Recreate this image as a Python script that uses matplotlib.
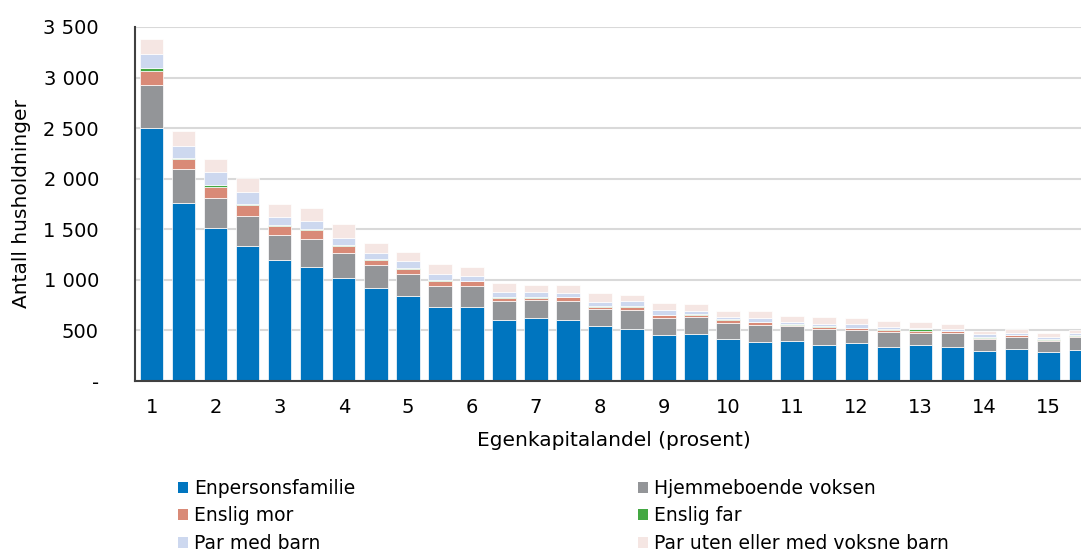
import matplotlib
matplotlib.use("Agg")
import matplotlib.pyplot as plt
from matplotlib.ticker import FuncFormatter, MultipleLocator
from matplotlib.patches import Patch
import numpy as np

plt.rcParams['font.family'] = ['DejaVu Sans']

# Egenkapitalandel (prosent), categories in steps of 0.5
categories = [1, 1.5, 2, 2.5, 3, 3.5, 4, 4.5, 5, 5.5, 6, 6.5, 7, 7.5, 8, 8.5,
              9, 9.5, 10, 10.5, 11, 11.5, 12, 12.5, 13, 13.5, 14, 14.5, 15, 15.5]

enpersonsfamilie = [2504, 1763, 1516, 1338, 1193, 1130, 1015, 920, 844, 733,
                    735, 607, 620, 607, 541, 518, 458, 461, 418, 389,
                    399, 359, 372, 333, 353, 333, 293, 313, 290, 303]
hjemmeboende = [425, 330, 296, 296, 254, 271, 248, 224, 217, 210,
                208, 184, 178, 181, 168, 187, 162, 175, 158, 168,
                148, 152, 136, 155, 119, 139, 119, 125, 102, 129]
enslig_mor = [140, 100, 106, 103, 89, 89, 69, 52, 46, 42,
              43, 33, 26, 42, 23, 27, 30, 16, 30, 26,
              10, 20, 16, 20, 22, 19, 16, 13, 17, 16]
enslig_far = [25, 10, 23, 16, 10, 10, 10, 10, 13, 17,
              6, 3, 3, 3, 10, 13, 3, 10, 3, 3,
              10, 13, 3, 3, 17, 3, 3, 3, 3, 3]
par_med_barn = [135, 118, 129, 119, 79, 79, 75, 56, 70, 59,
                50, 49, 49, 40, 36, 49, 49, 30, 27, 40,
                20, 23, 34, 20, 13, 23, 34, 24, 23, 24]
par_uten = [155, 152, 128, 138, 125, 128, 132, 106, 89, 96,
            88, 93, 76, 76, 92, 56, 66, 69, 56, 63,
            59, 66, 62, 66, 56, 50, 32, 39, 43, 26]

series_names = ["Enpersonsfamilie", "Hjemmeboende voksen", "Enslig mor",
                "Enslig far", "Par med barn", "Par uten eller med voksne barn"]
series_values = [enpersonsfamilie, hjemmeboende, enslig_mor, enslig_far,
                 par_med_barn, par_uten]
colors = ["#0075BF", "#939598", "#D98A77", "#44A843", "#CDD8EF", "#F5E6E3"]

W, H = 1081, 555
fig = plt.figure(figsize=(W / 100, H / 100), dpi=100)
ax = fig.add_axes([135 / W, (H - 381) / H, (W - 135) / W, (381 - 27) / H])

x = np.arange(len(categories))
bottom = np.zeros(len(categories))
for name, vals, c in zip(series_names, series_values, colors):
    v = np.array(vals, dtype=float)
    ax.bar(x, v, bottom=bottom, width=0.72, color=c, edgecolor="white",
           linewidth=0.5, label=name, zorder=3)
    bottom += v

ax.set_ylim(0, 3500)
ax.set_xlim(-0.53, len(categories) - 0.97)
ax.yaxis.set_major_locator(MultipleLocator(500))

def fmt(v, pos):
    if v == 0:
        return "-"
    return f"{int(v):,}".replace(",", " ")

ax.yaxis.set_major_formatter(FuncFormatter(fmt))
ax.grid(axis="y", color="#D9D9D9", linewidth=1.5, zorder=0)

tick_pos = x[::2]
tick_lab = [f"{categories[i]:g}" for i in tick_pos]
ax.set_xticks(tick_pos)
ax.set_xticklabels(tick_lab)
ax.tick_params(axis="both", length=0, labelsize=14, colors="black")
ax.tick_params(axis="x", pad=12)
ax.tick_params(axis="y", pad=26)

for s in ["top", "right"]:
    ax.spines[s].set_visible(False)
for s in ["left", "bottom"]:
    ax.spines[s].set_color("#404040")
    ax.spines[s].set_linewidth(1.5)
    ax.spines[s].set_zorder(4)

fig.text(22 / W, 1 - 204 / H, "Antall husholdninger", rotation=90,
         ha="center", va="center", fontsize=14.5)
fig.text(614 / W, 1 - 441 / H, "Egenkapitalandel (prosent)",
         ha="center", va="center", fontsize=14.5)

handles = [Patch(facecolor=c, edgecolor="none") for c in colors]
col1 = [0, 2, 4]
col2 = [1, 3, 5]
for cols, xpos in ((col1, 178), (col2, 638)):
    fig.legend([handles[i] for i in cols], [series_names[i] for i in cols],
               loc="upper left", bbox_to_anchor=(xpos / W, 1 - 479 / H),
               frameon=False, fontsize=13.5, handlelength=0.55,
               handleheight=0.55, handletextpad=0.3, labelspacing=0.45,
               borderaxespad=0, borderpad=0)

fig.savefig("out.png", dpi=100)
